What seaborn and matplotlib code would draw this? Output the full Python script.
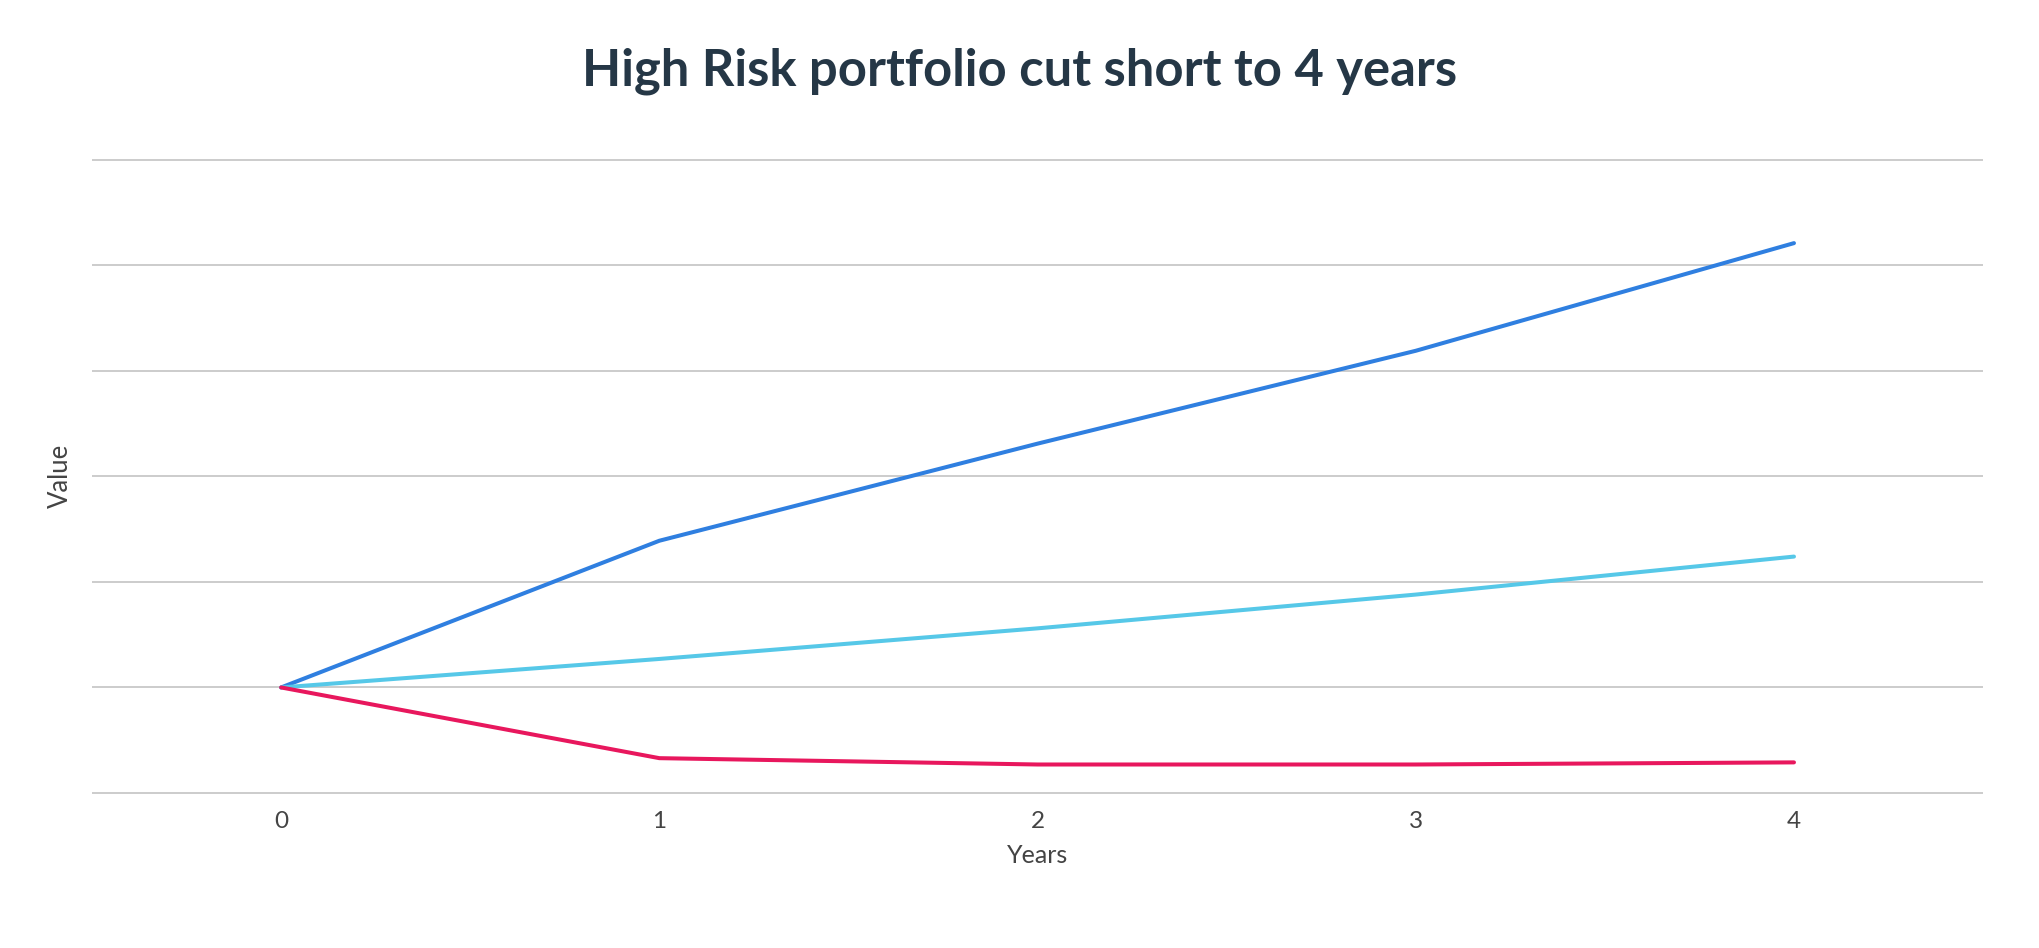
import pandas as pd
import numpy as np
import seaborn as sns
import matplotlib.pyplot as plt

# Veriler (resimden okunan tahmini değerler)
years = [0, 1, 2, 3, 4]
high_case = [1.0, 2.39, 3.31, 4.19, 5.21]
mid_case = [1.0, 1.27, 1.56, 1.88, 2.24]
low_case = [1.0, 0.33, 0.27, 0.27, 0.29]
series_names = ["High", "Mid", "Low"]
series_colors = ["#2F7FE0", "#56C8E8", "#E8175D"]

df = pd.DataFrame({
    "Years": years * 3,
    "Value": high_case + mid_case + low_case,
    "Scenario": np.repeat(series_names, len(years)),
})

sns.set_theme(style="white")
plt.rcParams["font.family"] = ["Lato", "DejaVu Sans"]

fig = plt.figure(figsize=(20.4, 9.48), dpi=100)
ax = fig.add_axes([0.0451, 0.1624, 0.9270, 0.6702])

sns.lineplot(data=df, x="Years", y="Value", hue="Scenario",
             palette=dict(zip(series_names, series_colors)),
             linewidth=2.9, legend=False, ax=ax)

ax.set_xlim(-0.5, 4.5)
ax.set_ylim(-0.01, 6.01)
ax.set_xticks(years)
ax.set_yticks(range(7))
ax.set_yticklabels([])
ax.grid(axis="y", color="#cccccc", linewidth=1.4)
ax.set_axisbelow(True)
for s in ax.spines.values():
    s.set_visible(False)
ax.tick_params(axis="both", length=0)
ax.tick_params(axis="x", pad=12, labelsize=17.5, labelcolor="#444444")

ax.set_xlabel("Years", fontsize=18, color="#444444", labelpad=9)
ax.set_ylabel("Value", fontsize=18.5, color="#444444")
ax.yaxis.set_label_coords(-0.010, 0.5)

fig.suptitle("High Risk portfolio cut short to 4 years", x=0.5, y=0.95,
             fontsize=36.5, fontweight="bold", color="#253746")

plt.savefig("out.png", dpi=100)
